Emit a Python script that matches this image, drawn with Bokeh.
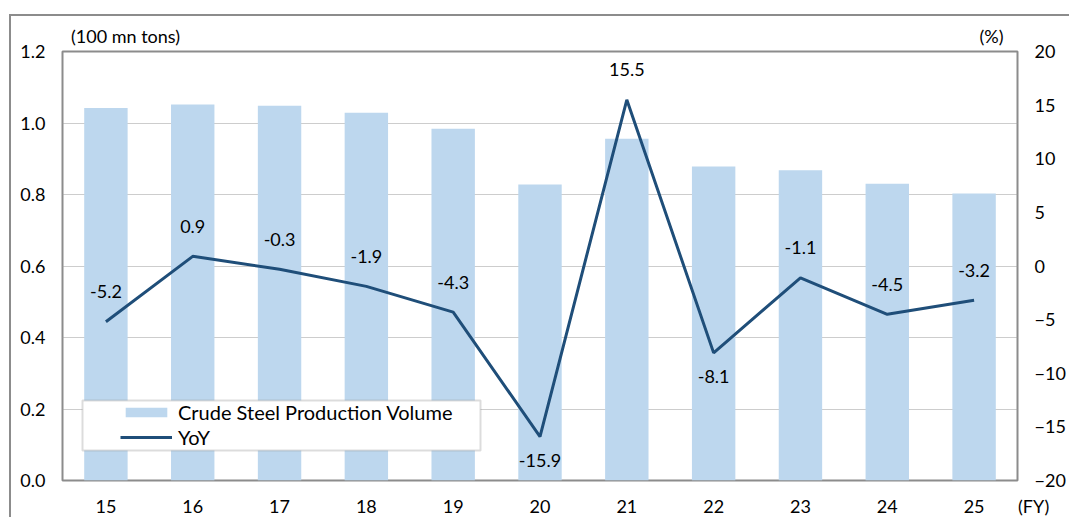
from bokeh.plotting import figure
from bokeh.models import (Range1d, LinearAxis, FixedTicker, Legend, LegendItem,
                          LabelSet, ColumnDataSource, BoxAnnotation, NumeralTickFormatter)
from bokeh.core.properties import value
from bokeh.embed import file_html
from bokeh.resources import INLINE

# ---- data ----
years = ["15", "16", "17", "18", "19", "20", "21", "22", "23", "24", "25"]
production = [1.042, 1.052, 1.048, 1.029, 0.984, 0.828, 0.956, 0.878, 0.868, 0.830, 0.803]
yoy = [-5.2, 0.9, -0.3, -1.9, -4.3, -15.9, 15.5, -8.1, -1.1, -4.5, -3.2]
labels_below = ["20", "22"]
left_ticks = [0.0, 0.2, 0.4, 0.6, 0.8, 1.0, 1.2]
right_ticks = [-20, -15, -10, -5, 0, 5, 10, 15, 20]
left_unit = "(100 mn tons)"
right_unit = "(%)"
x_unit = "(FY)"
bar_name = "Crude Steel Production Volume"
line_name = "YoY"

FONT = "Lato"
FS = "18px"
LFS = "20px"
BAR = "#BDD7EE"
LINE = "#1F4E79"
GRAY = "#8c8c8c"

n = len(years)
xs = list(range(n))
src = ColumnDataSource(dict(x=xs, prod=production, yoy=yoy))
above = [i for i, y in enumerate(years) if y not in labels_below]
below = [i for i, y in enumerate(years) if y in labels_below]
src_above = ColumnDataSource(dict(x=[xs[i] for i in above], y=[yoy[i] for i in above],
                                  t=[f"{yoy[i]:.1f}" for i in above]))
src_below = ColumnDataSource(dict(x=[xs[i] for i in below], y=[yoy[i] for i in below],
                                  t=[f"{yoy[i]:.1f}" for i in below]))

p = figure(width=1060, height=503, x_range=Range1d(-0.5, n - 0.5),
           y_range=Range1d(0, 1.2), output_backend="svg", toolbar_location=None,
           min_border_left=51, min_border_right=54, min_border_top=35, min_border_bottom=37,
           styles={"border-top": f"2px solid {GRAY}", "border-left": f"2px solid {GRAY}",
                   "margin-top": "14px", "margin-left": "9px"})
p.extra_y_ranges = {"yoy": Range1d(-20, 20)}

bars = p.vbar(x="x", top="prod", width=0.5, fill_color=BAR, line_color=None, source=src)
line = p.line(x="x", y="yoy", y_range_name="yoy", line_color=LINE, line_width=3, source=src)
# legend swatch helper (full-width swatch like the reference)
swatch = p.line(x=[], y=[], line_color=BAR, line_width=12, line_cap="butt")

# axes
bottom = p.below[0]
left = p.left[0]
x_end = n - 0.5
bottom.ticker = FixedTicker(ticks=xs + [x_end])
overrides = {i: y for i, y in enumerate(years)}
overrides[x_end] = "\u00a0" * 7 + x_unit
bottom.major_label_overrides = overrides
left.ticker = FixedTicker(ticks=left_ticks)
left.formatter = NumeralTickFormatter(format="0.0")
right = LinearAxis(y_range_name="yoy", ticker=FixedTicker(ticks=right_ticks))
p.add_layout(right, "right")

# unit captions above the frame
pos_left_unit = 0.2256
pos_right_unit = 10.20
top = LinearAxis(ticker=FixedTicker(ticks=[pos_left_unit, pos_right_unit]),
                 major_label_overrides={pos_left_unit: left_unit, pos_right_unit: right_unit})
p.add_layout(top, "above")

for ax in [bottom, left, right, top]:
    ax.axis_line_color = None
    ax.major_tick_line_color = None
    ax.minor_tick_line_color = None
    ax.major_tick_out = 0
    ax.major_tick_in = 0
    ax.major_label_text_font = FONT
    ax.major_label_text_font_size = FS
    ax.major_label_text_color = "#000000"
bottom.major_label_standoff = 14
left.major_label_standoff = 17
right.major_label_standoff = 17
top.major_label_standoff = 5

p.xgrid.visible = False
p.ygrid.ticker = FixedTicker(ticks=left_ticks[1:-1])
p.ygrid.grid_line_color = "#9a9a9a"
p.ygrid.grid_line_dash = "1 1"
p.outline_line_color = GRAY
p.outline_line_width = 2

# data labels
for s, off in [(src_above, 30), (src_below, -24)]:
    p.add_layout(LabelSet(x="x", y="y", text="t", source=s, y_range_name="yoy",
                          y_offset=off, text_align="center", text_baseline="middle",
                          text_font=value(FONT), text_font_size=value(FS),
                          text_color="#000000"))

# legend
p.add_layout(BoxAnnotation(left=20, right=418, bottom=30, top=80,
                           left_units="screen", right_units="screen",
                           bottom_units="screen", top_units="screen",
                           fill_color="white", fill_alpha=1.0,
                           line_color=GRAY, line_width=2))
legend = Legend(items=[LegendItem(label=bar_name, renderers=[bars, swatch]),
                       LegendItem(label=line_name, renderers=[line])],
                location=(58, 31), orientation="vertical",
                padding=0, spacing=1, glyph_width=52, glyph_height=12,
                label_height=24, label_standoff=6,
                label_text_font=FONT, label_text_font_size=LFS, label_text_color="#000000",
                border_line_color=None, background_fill_alpha=0.0)
p.add_layout(legend)

open("out.html", "w").write(file_html(p, INLINE))
